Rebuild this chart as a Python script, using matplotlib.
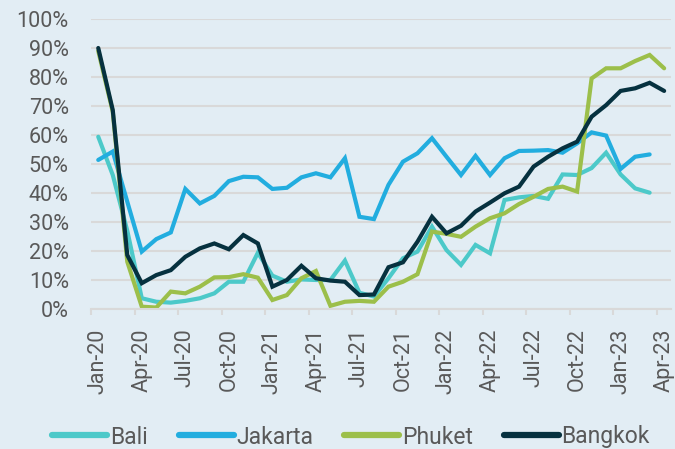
import numpy as np
import matplotlib
matplotlib.use('Agg')
import matplotlib.pyplot as plt
from matplotlib.ticker import FuncFormatter

plt.rcParams['font.family'] = ['Roboto', 'DejaVu Sans']

# Monthly occupancy, Jan-20 .. Apr-23
months = ['Jan', 'Feb', 'Mar', 'Apr', 'May', 'Jun', 'Jul', 'Aug', 'Sep', 'Oct', 'Nov', 'Dec']
labels = [f'{m}-{y}' for y in ['20', '21', '22', '23'] for m in months][:40]

bali = [59.4, 46.2, 27.0, 3.7, 2.5, 2.2, 2.8, 3.7, 5.4, 9.4, 9.4, 19.4, 11.5, 9.4, 10.2, 10.0,
        10.0, 16.7, 5.6, 4.3, 10.6, 17.5, 19.8, 28.4, 20.3, 15.2, 22.1, 19.2, 37.6, 38.5,
        39.0, 38.0, 46.4, 46.2, 48.6, 53.9, 46.4, 41.6, 40.1]
jakarta = [51.4, 54.3, 37.0, 19.8, 24.1, 26.4, 41.4, 36.4, 39.0, 44.1, 45.6, 45.4, 41.4, 41.8,
           45.4, 46.8, 45.4, 52.0, 31.8, 31.0, 42.8, 50.8, 53.7, 58.9, 52.5, 46.2, 52.8, 46.2,
           52.0, 54.5, 54.6, 54.8, 53.9, 57.1, 60.9, 59.8, 48.3, 52.5, 53.3]
phuket = [89.0, 68.0, 16.3, 0.8, 0.5, 6.0, 5.4, 7.7, 10.9, 11.0, 12.0, 10.8, 3.1, 4.8, 10.6,
          13.1, 1.1, 2.5, 2.8, 2.5, 7.7, 9.4, 12.0, 26.7, 25.9, 24.9, 28.4, 31.3, 33.0, 36.2,
          38.7, 41.4, 42.2, 40.5, 79.5, 83.0, 83.0, 85.5, 87.6, 83.0]
bangkok = [90.0, 68.6, 18.6, 8.9, 11.7, 13.4, 18.0, 20.9, 22.6, 20.6, 25.5, 22.6, 7.7, 10.0,
           14.9, 10.6, 9.8, 9.4, 4.8, 5.0, 14.4, 16.1, 23.2, 31.8, 26.1, 28.7, 33.6, 36.7,
           39.9, 42.2, 49.1, 52.5, 55.4, 57.7, 66.3, 70.3, 75.2, 76.1, 78.0, 75.2]

series = [('Bali', bali, '#4cc9c9'), ('Jakarta', jakarta, '#22addf'),
          ('Phuket', phuket, '#9cbf4a'), ('Bangkok', bangkok, '#06313f')]

bg = '#e2edf4'
grid = '#d9d9d9'
txt = '#595959'

fig = plt.figure(figsize=(6.75, 4.49), dpi=100, facecolor=bg)
ax = fig.add_axes([91 / 675, 1 - 309 / 449, (671.4 - 91) / 675, (309 - 19) / 449])
ax.set_facecolor(bg)

for name, vals, col in series:
    ax.plot(np.arange(len(vals)), np.array(vals) / 100, color=col, lw=3,
            solid_capstyle='round', solid_joinstyle='miter', label=name)

ax.set_xlim(-0.5, 39.5)
ax.set_ylim(0, 1)
ax.set_yticks(np.arange(0, 1.01, 0.1))
ax.yaxis.set_major_formatter(FuncFormatter(lambda v, p: f'{v * 100:.0f}%'))
ax.grid(axis='y', color=grid, lw=1.5)
ax.set_axisbelow(True)

# ticks between categories, labels on every third month
idx = np.arange(0, 40, 3)
ax.set_xticks(idx - 0.5)
ax.set_xticklabels([])
ax.set_xticks(idx, minor=True)
ax.set_xticklabels([labels[i] for i in idx], minor=True, rotation=90)
ax.tick_params(axis='x', which='major', length=4.5, width=1.5, color=grid)
ax.tick_params(axis='x', which='minor', length=0, pad=14, labelsize=15.5, labelcolor=txt)
ax.tick_params(axis='y', length=0, pad=16, labelsize=15.5, labelcolor=txt)

for s in ['top', 'right', 'left']:
    ax.spines[s].set_visible(False)
ax.spines['bottom'].set_color(grid)
ax.spines['bottom'].set_linewidth(1.5)

leg = fig.legend(loc='center', bbox_to_anchor=(351 / 675, 1 - 437 / 449), ncol=4, frameon=False,
                 fontsize=16.5, labelcolor=txt, handlelength=2.4, handletextpad=0.12,
                 columnspacing=1.35, borderaxespad=0)
for ln in leg.get_lines():
    ln.set_linewidth(4.5)

fig.savefig('out.png', dpi=100, facecolor=bg)
